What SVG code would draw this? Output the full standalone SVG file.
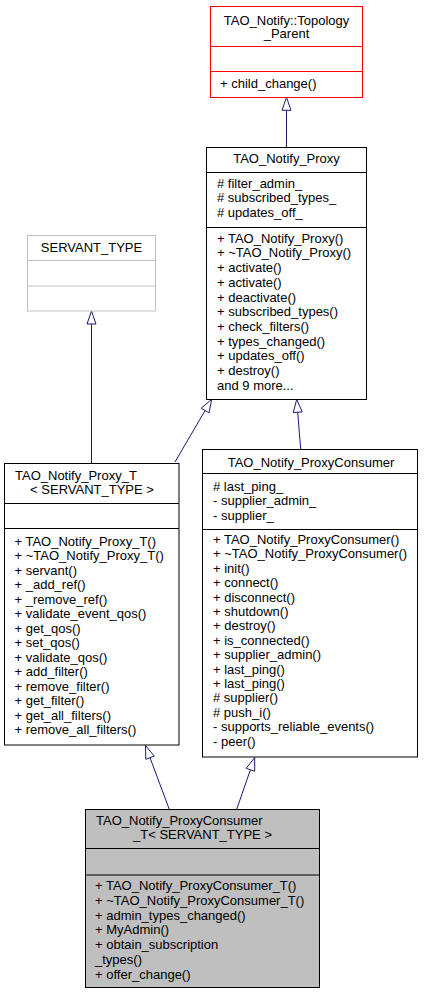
<svg xmlns="http://www.w3.org/2000/svg" width="428" height="995" viewBox="0 0 428 995">
<style>
text{font-family:"Liberation Sans",Arial,sans-serif;font-size:13px;fill:#000}
.c{text-anchor:middle}
.box{fill:#fff;stroke:#000;stroke-width:1}
.red{fill:#fff;stroke:#ff0000;stroke-width:1}
.gray{fill:#fff;stroke:#bfbfbf;stroke-width:1}
.cur{fill:#bfbfbf;stroke:#000;stroke-width:1}
.ln{stroke:#000;stroke-width:1}
.lnr{stroke:#ff0000;stroke-width:1}
.lng{stroke:#bfbfbf;stroke-width:1}
.edge{stroke:#191970;stroke-width:1;fill:none}
.head{fill:#fff;stroke:#191970;stroke-width:1}
</style>
<rect width="428" height="995" fill="#fff"/>
<g id="connectors">
<line class="edge" x1="286.5" y1="147" x2="286.5" y2="110.3"/>
<polygon class="head" points="286.5,97.3 282,110.3 291,110.3"/>
<line class="edge" x1="91.5" y1="463" x2="91.5" y2="324"/>
<polygon class="head" points="91.5,311 87,324 96,324"/>
<line class="edge" x1="175" y1="462" x2="205.1" y2="410.5"/>
<polygon class="head" points="211.7,399.3 209,412.8 201.2,408.2"/>
<line class="edge" x1="300.7" y1="449" x2="297.7" y2="412.3"/>
<polygon class="head" points="296.7,399.3 302.2,411.9 293.3,412.6"/>
<line class="edge" x1="169.3" y1="809.3" x2="150" y2="757.7"/>
<polygon class="head" points="145.5,745.5 154.3,756.1 145.8,759.3"/>
<line class="edge" x1="236.7" y1="809.3" x2="250.4" y2="769.8"/>
<polygon class="head" points="254.7,757.5 254.7,771.3 246.2,768.3"/>
</g>
<g id="topology_parent">
<rect class="red" x="210.5" y="6.5" width="152" height="91"/>
<line class="lnr" x1="210.5" y1="46.5" x2="362.5" y2="46.5"/>
<line class="lnr" x1="210.5" y1="71.5" x2="362.5" y2="71.5"/>
<text class="c" x="286.5" y="24.5">TAO_Notify::Topology</text>
<text class="c" x="286.5" y="38">_Parent</text>
<text x="220" y="88">+ child_change()</text>
</g>
<g id="proxy">
<rect class="box" x="206.5" y="147.5" width="160" height="252"/>
<line class="ln" x1="206.5" y1="172.5" x2="366.5" y2="172.5"/>
<line class="ln" x1="206.5" y1="227.5" x2="366.5" y2="227.5"/>
<text class="c" x="286.5" y="163">TAO_Notify_Proxy</text>
<text x="217" y="187.5"># filter_admin_</text>
<text x="217" y="202.2"># subscribed_types_</text>
<text x="217" y="216.9"># updates_off_</text>
<text x="217" y="242.7">+ TAO_Notify_Proxy()</text>
<text x="217" y="257.4">+ ~TAO_Notify_Proxy()</text>
<text x="217" y="272.1">+ activate()</text>
<text x="217" y="286.8">+ activate()</text>
<text x="217" y="301.5">+ deactivate()</text>
<text x="217" y="316.2">+ subscribed_types()</text>
<text x="217" y="330.9">+ check_filters()</text>
<text x="217" y="345.6">+ types_changed()</text>
<text x="217" y="360.3">+ updates_off()</text>
<text x="217" y="375">+ destroy()</text>
<text x="217" y="389.7">and 9 more...</text>
</g>
<g id="servant_type">
<rect class="gray" x="27.5" y="235.5" width="128" height="75.5"/>
<line class="lng" x1="27.5" y1="260.5" x2="155.5" y2="260.5"/>
<line class="lng" x1="27.5" y1="286" x2="155.5" y2="286"/>
<text class="c" x="91.5" y="251.7">SERVANT_TYPE</text>
</g>
<g id="proxy_t">
<rect class="box" x="4.5" y="463.5" width="174.5" height="281.5"/>
<line class="ln" x1="4.5" y1="503.5" x2="179" y2="503.5"/>
<line class="ln" x1="4.5" y1="528.5" x2="179" y2="528.5"/>
<text x="15" y="480">TAO_Notify_Proxy_T</text>
<text class="c" x="92" y="493.5">&lt; SERVANT_TYPE &gt;</text>
<text x="14.5" y="545.7">+ TAO_Notify_Proxy_T()</text>
<text x="14.5" y="560.2">+ ~TAO_Notify_Proxy_T()</text>
<text x="14.5" y="574.7">+ servant()</text>
<text x="14.5" y="589.2">+ _add_ref()</text>
<text x="14.5" y="603.7">+ _remove_ref()</text>
<text x="14.5" y="618.2">+ validate_event_qos()</text>
<text x="14.5" y="632.7">+ get_qos()</text>
<text x="14.5" y="647.2">+ set_qos()</text>
<text x="14.5" y="661.7">+ validate_qos()</text>
<text x="14.5" y="676.2">+ add_filter()</text>
<text x="14.5" y="690.7">+ remove_filter()</text>
<text x="14.5" y="705.2">+ get_filter()</text>
<text x="14.5" y="719.7">+ get_all_filters()</text>
<text x="14.5" y="734.2">+ remove_all_filters()</text>
</g>
<g id="proxyconsumer">
<rect class="box" x="202.5" y="449.5" width="215" height="307.5"/>
<line class="ln" x1="202.5" y1="473.5" x2="417.5" y2="473.5"/>
<line class="ln" x1="202.5" y1="529.5" x2="417.5" y2="529.5"/>
<text class="c" x="311" y="466.5">TAO_Notify_ProxyConsumer</text>
<text x="213" y="490.5"># last_ping_</text>
<text x="213" y="505">- supplier_admin_</text>
<text x="213" y="519.5">- supplier_</text>
<text x="213" y="544">+ TAO_Notify_ProxyConsumer()</text>
<text x="213" y="558.4">+ ~TAO_Notify_ProxyConsumer()</text>
<text x="213" y="572.8">+ init()</text>
<text x="213" y="587.2">+ connect()</text>
<text x="213" y="601.6">+ disconnect()</text>
<text x="213" y="616">+ shutdown()</text>
<text x="213" y="630.4">+ destroy()</text>
<text x="213" y="644.8">+ is_connected()</text>
<text x="213" y="659.2">+ supplier_admin()</text>
<text x="213" y="673.6">+ last_ping()</text>
<text x="213" y="688">+ last_ping()</text>
<text x="213" y="702.4"># supplier()</text>
<text x="213" y="716.8"># push_i()</text>
<text x="213" y="731.2">- supports_reliable_events()</text>
<text x="213" y="745.6">- peer()</text>
</g>
<g id="proxyconsumer_t">
<rect class="cur" x="85.5" y="809.5" width="234" height="178"/>
<line class="ln" x1="85.5" y1="848.5" x2="319.5" y2="848.5"/>
<line class="ln" x1="85.5" y1="875" x2="319.5" y2="875"/>
<text x="96" y="825">TAO_Notify_ProxyConsumer</text>
<text class="c" x="202.5" y="839.3">_T&lt; SERVANT_TYPE &gt;</text>
<text x="95" y="890">+ TAO_Notify_ProxyConsumer_T()</text>
<text x="95" y="904.8">+ ~TAO_Notify_ProxyConsumer_T()</text>
<text x="95" y="919.6">+ admin_types_changed()</text>
<text x="95" y="934.4">+ MyAdmin()</text>
<text x="95" y="949.2">+ obtain_subscription</text>
<text x="95" y="964">_types()</text>
<text x="95" y="978.8">+ offer_change()</text>
</g>
</svg>
